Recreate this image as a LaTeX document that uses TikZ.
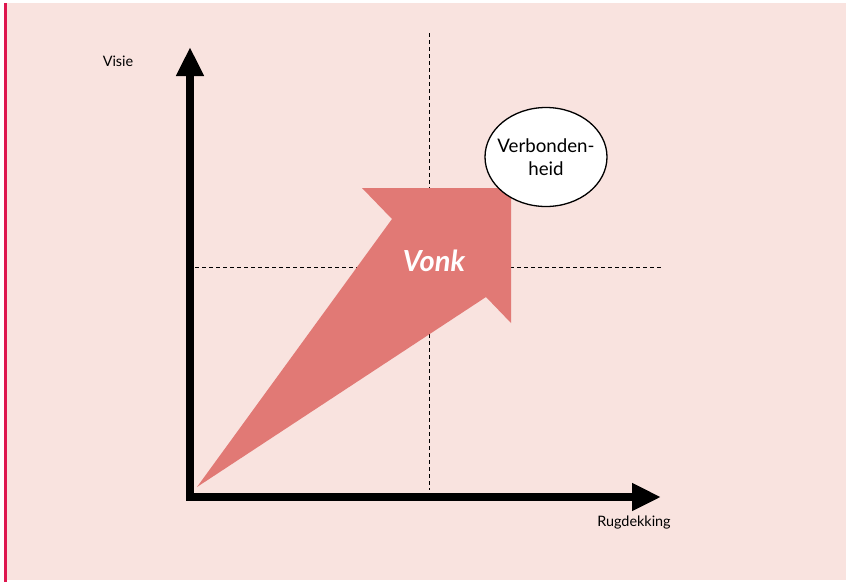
\documentclass[tikz,border=0pt]{standalone}
\usepackage{fontspec}
\setmainfont{Lato}
\usetikzlibrary{arrows.meta,shapes.geometric}
\definecolor{bgpink}{RGB}{249,227,223}
\definecolor{strip}{RGB}{222,22,78}
\definecolor{vonk}{RGB}{225,121,117}
\tikzset{
  axis/.style={line width=8pt,line join=miter,
    {Triangle[length=29pt,width=26pt]}-{Triangle[length=29pt,width=26pt]}},
  guide/.style={line width=0.9pt,dash pattern=on 4pt off 3pt},
  lbl/.style={font=\fontsize{14.4}{17}\selectfont,inner sep=0pt},
  bubble/.style={ellipse,draw,line width=1.3pt,fill=white,minimum width=122pt,minimum height=99pt,inner sep=0pt},
  bubbletext/.style={align=center,inner sep=0pt,font=\fontsize{18.7}{22.5}\selectfont},
}
\begin{document}
\begin{tikzpicture}[x=1pt,y=1pt]
\useasboundingbox (0,0) rectangle (846,-582);
\fill[white] (0,0) rectangle (846,-582);
\fill[bgpink] (7,-3) rectangle (846,-580);
\fill[strip] (4,-3) rectangle (7,-582);
% guides
\coordinate (gv1) at (429,-33);
\coordinate (gv2) at (429,-490);
\coordinate (gh1) at (195,-267);
\coordinate (gh2) at (662,-267);
\draw[guide] (gv1) -- (gv2);
\draw[guide] (gh1) -- (gh2);
% Vonk arrow
\fill[vonk] (197,-487) -- (392,-219) -- (362,-188) -- (511,-188) -- (511,-323) -- (486,-297) -- cycle;
\node[font=\fontsize{29}{32}\selectfont\bfseries\itshape,text=white] (vonk) at (434,-261) {Vonk};
% axes
\coordinate (ytip) at (190,-47);
\coordinate (origin) at (190,-497);
\coordinate (xtip) at (661,-497);
\draw[axis] (ytip) -- (origin) -- (xtip);
\node[lbl] (visie) at (118,-61) {Visie};
\node[lbl] (rug) at (634,-523) {Rugdekking};
\node[bubble] (verb) at (546,-157) {};
\node[bubbletext] (verbtext) at (verb.center) {Verbonden-\\heid};
\end{tikzpicture}
\end{document}
